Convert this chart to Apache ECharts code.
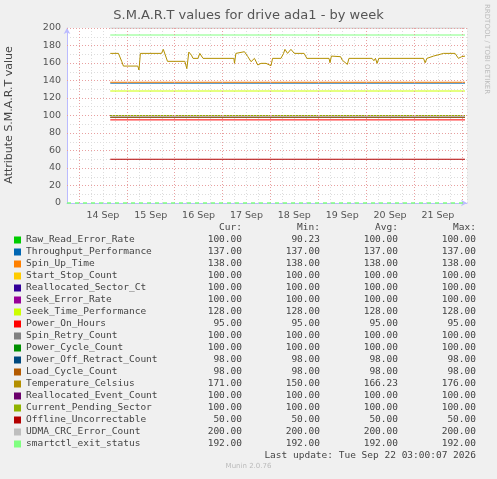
<!DOCTYPE html><html><head><meta charset="utf-8">
<script src="https://cdn.jsdelivr.net/npm/echarts@6/dist/echarts.min.js"></script>
<style>html,body{margin:0;background:#f0f0f0}#c{width:497px;height:479px}</style></head><body><div id="c"></div>
<script>
const names=["Raw_Read_Error_Rate","Throughput_Performance","Spin_Up_Time","Start_Stop_Count","Reallocated_Sector_Ct","Seek_Error_Rate","Seek_Time_Performance","Power_On_Hours","Spin_Retry_Count","Power_Cycle_Count","Power_Off_Retract_Count","Load_Cycle_Count","Temperature_Celsius","Reallocated_Event_Count","Current_Pending_Sector","Offline_Uncorrectable","UDMA_CRC_Error_Count","smartctl_exit_status"];
const colors=["#00cc00","#0066b3","#ff8000","#ffcc00","#330099","#990099","#ccff00","#ff0000","#808080","#008f00","#00487d","#b35a00","#b38f00","#6b006b","#8fb300","#b30000","#bebebe","#80ff80"];
const cur=[100,137,138,100,100,100,128,95,100,100,98,98,171,100,100,50,200,192];
const mins=[90.23,137,138,100,100,100,128,95,100,100,98,98,150,100,100,50,200,192];
const avgs=[100,137,138,100,100,100,128,95,100,100,98,98,166.23,100,100,50,200,192];
const maxs=[100,137,138,100,100,100,128,95,100,100,98,98,176,100,100,50,200,192];
// hours since 13 Sep 18:00
const tStart=21.7, tEnd=199.6;
const tempHours=[21.7,25.8,27.5,28.3,35.5,36.1,36.8,47.4,48.3,50.4,59.1,60.1,61.1,62.4,63.2,65.7,66.6,68.2,83.7,84,84.7,89,89.8,90.7,92.3,94,95.7,97.3,99.8,102.3,103.1,107.3,108.6,109.3,110.6,112.3,114,118.9,120.3,131.4,131.9,132.6,137.2,138,140.6,141.4,153,153.9,154.7,155.5,156.4,178.8,179.6,180.5,183.8,187.1,188.8,194.6,196.3,197.9,199.6];
const tempVals=[171,171,161.5,156.5,156.5,152,171,171,175.6,161.9,161.9,153.5,172.5,169,165.3,165.3,171,165.3,165.3,159.6,171,172.9,174.8,167.2,161.5,165.3,157.7,159.6,159.6,156.9,165.3,165.3,171,175.6,171,175.6,171,171,165.3,165.3,160.3,167.9,167.2,163.4,158.4,165.3,165.3,162.6,165.3,159.6,165.3,165.3,160.3,165.3,167.9,169.9,171,171,165.3,167.2,167.9];
const dayLabels=["14 Sep","15 Sep","16 Sep","17 Sep","18 Sep","19 Sep","20 Sep","21 Sep"];
const midnights=[6,30,54,78,102,126,150,174,198];

const series=names.map((n,i)=>{
  let data = i===12 ? tempHours.map((h,k)=>[h,tempVals[k]]) : [[tStart,cur[i]],[tEnd,cur[i]]];
  return {name:n,type:'line',data,symbol:'none',lineStyle:{width:1,color:colors[i]},itemStyle:{color:colors[i]},z:i===12?5:3,animation:false};
});
series.push({type:'line',data:[],markLine:{silent:true,symbol:'none',label:{show:false},animation:false,
  data:midnights.map(h=>({xAxis:h,lineStyle:{color:'#e8a0a0',type:[1,2],width:1}}))
   .concat([20,40,60,80,100,120,140,160,180,200].map(v=>({yAxis:v,lineStyle:{color:'#e8a0a0',type:[1,2],width:1}})))
   .concat([{yAxis:0,lineStyle:{color:'#80ff80',type:[4,4],width:1.5}}])}});

const mono='DejaVu Sans Mono', fs=9.5;
const g=[
 {type:'text',left:'center',top:9,style:{text:'S.M.A.R.T values for drive ada1 - by week',font:'13px DejaVu Sans',fill:'#555'}},
 {type:'text',x:4,y:115,rotation:Math.PI/2,style:{text:'Attribute S.M.A.R.T value',font:'11px DejaVu Sans',fill:'#444',align:'center',verticalAlign:'top'},originX:0,originY:0},
 {type:'text',x:487,y:4,rotation:-Math.PI/2,style:{text:'RRDTOOL / TOBI OETIKER',font:'7px DejaVu Sans',fill:'#bbb',verticalAlign:'middle'}},
];
[['Cur:',242],['Min:',320],['Avg:',398],['Max:',476]].forEach(([t,x])=>g.push({type:'text',x,y:228,style:{text:t,font:fs+'px '+mono,fill:'#444',align:'right',verticalAlign:'middle'}}));
names.forEach((n,i)=>{
  const y=240+i*12;
  g.push({type:'rect',shape:{x:14,y:y-3.5,width:7,height:7},style:{fill:colors[i]}});
  g.push({type:'text',x:26,y,style:{text:n,font:fs+'px '+mono,fill:'#444',verticalAlign:'middle'}});
  [[cur,242],[mins,320],[avgs,398],[maxs,476]].forEach(([a,x])=>g.push({type:'text',x,y,style:{text:a[i].toFixed(2),font:fs+'px '+mono,fill:'#444',align:'right',verticalAlign:'middle'}}));
});
g.push({type:'text',x:476,y:456,style:{text:'Last update: Tue Sep 22 03:00:07 2026',font:fs+'px '+mono,fill:'#444',align:'right',verticalAlign:'middle'}});
g.push({type:'text',left:'center',top:463,style:{text:'Munin 2.0.76',font:'7px DejaVu Sans',fill:'#bbb'}});

const chart=echarts.init(document.getElementById('c'),null,{renderer:'canvas'});
chart.setOption({backgroundColor:'#f0f0f0',animation:false,graphic:g,
 grid:{left:67,right:30,top:28,bottom:276,backgroundColor:'#fff',show:true,borderWidth:0},
 xAxis:{type:'value',min:0,max:200.6,interval:6,
  axisLine:{lineStyle:{color:'#bbbbff'},symbol:['none','arrow'],symbolSize:[5,6]},axisTick:{show:false},
  axisLabel:{color:'#555',fontSize:9.5,fontFamily:'DejaVu Sans',showMaxLabel:false,formatter:v=>{const k=(v-18)/24;return Number.isInteger(k)&&k>=0&&k<8?dayLabels[k]:'';}},
  splitLine:{lineStyle:{color:'#ddd',type:[1,2]}}},
 yAxis:{type:'value',min:0,max:200,interval:10,
  axisLine:{show:true,lineStyle:{color:'#bbbbff'},symbol:['none','arrow'],symbolSize:[5,6]},axisTick:{show:false},
  axisLabel:{color:'#555',fontSize:9.5,fontFamily:'DejaVu Sans',margin:6,formatter:v=>v%20===0?String(v):''},
  splitLine:{lineStyle:{color:'#ddd',type:[1,2]}}},
 series});
</script></body></html>
